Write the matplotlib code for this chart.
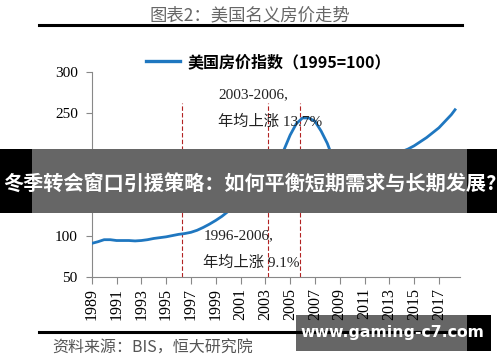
import matplotlib
matplotlib.use("Agg")
import matplotlib.pyplot as plt
from matplotlib.patches import Rectangle

plt.rcParams['font.family'] = ['Liberation Serif', 'Noto Sans CJK SC', 'DejaVu Sans']

years = [1989, 1989.5, 1990, 1990.5, 1991, 1991.5, 1992, 1992.5, 1993, 1993.5,
         1994, 1994.5, 1995, 1995.5, 1996, 1996.5, 1997, 1997.5, 1998, 1998.5,
         1999, 1999.5, 2000, 2000.5, 2001, 2001.5, 2002, 2002.5, 2003, 2003.5,
         2004, 2004.5, 2005, 2005.5, 2006, 2006.5, 2007, 2007.5, 2008, 2008.5,
         2009, 2009.5, 2010, 2010.5, 2011, 2011.5, 2012, 2012.5, 2013, 2013.5,
         2014, 2014.5, 2015, 2015.5, 2016, 2016.5, 2017, 2017.5, 2018, 2018.3]
index = [91, 93, 95.5, 95.5, 94.5, 94.5, 94.5, 94, 94.5, 95.5,
         97, 98, 99, 100.5, 102, 103, 104.5, 107, 110.5, 114.5,
         119, 124, 130, 137, 143, 149, 155, 162, 170, 179,
         189, 205, 223, 237, 244, 244, 240, 228, 213, 193,
         176, 174, 175, 173, 169, 168, 172, 180, 189, 198,
         203, 206, 210, 215, 220, 226, 232, 240, 248, 254]
periods = [1996.25, 2003.25, 2005.8]
xticks = list(range(1989, 2018, 2))
yticks = [50, 100, 150, 200, 250, 300]
series_name = "美国房价指数（1995=100）"

fig = plt.figure(figsize=(5, 3.62), dpi=100)
ax = fig.add_axes([0.1834, 0.2348, 0.7366, 0.5662])

line, = ax.plot(years, index, color='#1f77c0', lw=2.0, label=series_name, zorder=3)
ax.vlines(periods, 50, 262, colors='#b22222', linestyles=(0, (4, 2)), lw=0.8, zorder=2)

ax.text(1999.2, 272, "2003-2006,", fontsize=11, va='center', color='#222')
ax.text(1999.2, 240, "年均上涨 13.7%", fontsize=11, va='center', color='#222')
ax.text(1998.0, 100, "1996-2006,", fontsize=11, va='center', color='#222')
ax.text(1998.0, 67, "年均上涨 9.1%", fontsize=11, va='center', color='#222')

ax.set_xlim(1989, 2018.7)
ax.set_ylim(50, 300)
ax.set_xticks(xticks)
ax.set_xticklabels([str(y) for y in xticks], rotation=90)
ax.set_yticks(yticks)
ax.tick_params(axis='x', labelsize=11.5, length=5, color='#888', pad=3)
ax.tick_params(axis='y', labelsize=11, length=4, color='#888', pad=6)
for s in ['top', 'right']:
    ax.spines[s].set_visible(False)
for s in ['left', 'bottom']:
    ax.spines[s].set_color('#888')

fig.legend(handles=[line], loc='center left', bbox_to_anchor=(0.292, 1 - 62 / 362),
           frameon=False, borderpad=0, borderaxespad=0, handlelength=2.1,
           handletextpad=0.5, prop={'family': ['Noto Sans CJK SC'], 'weight': 'bold', 'size': 11.5})
fig.legends[0].get_lines()[0].set_linewidth(2.4)

fig.text(0.5, 1 - 15 / 362, "图表2：美国名义房价走势", ha='center', va='center',
         fontsize=12.5, color='#666', family=['Noto Sans CJK SC'])
fig.add_artist(plt.Line2D([0.078, 0.924], [1 - 25 / 362] * 2, color='black', lw=2.2))
fig.add_artist(plt.Line2D([0.078, 0.924], [1 - 332 / 362] * 2, color='black', lw=2.2))
fig.text(0.104, 1 - 348 / 362, "资料来源：BIS，恒大研究院", ha='left', va='center',
         fontsize=11.5, color='#555', style='italic', family=['Noto Sans CJK SC'])

# overlay banner
fig.add_artist(Rectangle((0, 1 - 213 / 362), 497 / 500, 64 / 362, transform=fig.transFigure,
                         facecolor='black', edgecolor='none', zorder=5))
fig.add_artist(Rectangle((32 / 500, 1 - 213 / 362), 435 / 500, 64 / 362, transform=fig.transFigure,
                         facecolor='white', edgecolor='none', zorder=5))
fig.add_artist(Rectangle((32 / 500, 1 - 213 / 362), 435 / 500, 64 / 362, transform=fig.transFigure,
                         facecolor='black', alpha=0.6, edgecolor='none', zorder=6))
fig.text(0.5, 1 - 183 / 362, "冬季转会窗口引援策略：如何平衡短期需求与长期发展?", ha='center', va='center',
         fontsize=14.5, color='white', weight='bold', family=['Noto Sans CJK SC'], zorder=7)

# watermark box
fig.add_artist(Rectangle((466.7 / 500, 1 - 351 / 362), 24 / 500, 36 / 362, transform=fig.transFigure,
                         facecolor='black', edgecolor='none', zorder=5))
fig.add_artist(Rectangle((296 / 500, 1 - 351 / 362), 170.7 / 500, 36 / 362, transform=fig.transFigure,
                         facecolor='black', alpha=0.6, edgecolor='none', zorder=6))
fig.text(392 / 500, 1 - 333 / 362, "www.gaming-c7.com", ha='center', va='center',
         fontsize=11.3, color='white', weight='bold', family=['DejaVu Sans'], zorder=7)

fig.savefig("out.png", dpi=100)
